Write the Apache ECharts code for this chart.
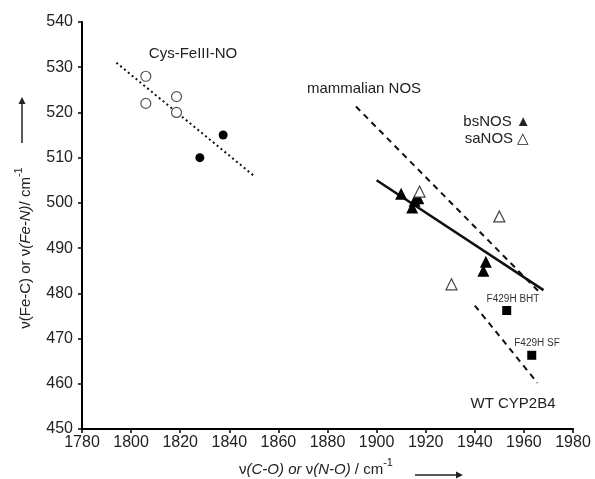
<!DOCTYPE html>
<html>
<head>
<meta charset="utf-8">
<script src="https://cdn.jsdelivr.net/npm/echarts@6/dist/echarts.min.js"></script>
<style>html,body{margin:0;padding:0;background:#fff}#c{width:595px;height:479px}</style>
</head>
<body>
<div id="c"></div>
<script>
// ---- data ----
var xTicks = [1780, 1800, 1820, 1840, 1860, 1880, 1900, 1920, 1940, 1960, 1980];
var yTicks = [450, 460, 470, 480, 490, 500, 510, 520, 530, 540];
var cysOpen = [[1806, 528], [1806, 522], [1818.5, 523.5], [1818.5, 520]];
var cysFilled = [[1828, 510], [1837.5, 515]];
var bsNOS = [[1910, 502], [1914.5, 499], [1915.5, 500.5], [1917, 501], [1944.5, 487], [1943.5, 485]];
var saNOS = [[1917.5, 502.5], [1950, 497], [1930.5, 482]];
var cypMutants = [[1953, 476.2], [1963.2, 466.3]];
var cysFit = [[1794, 531], [1850, 506]];
var mammalianFit = [[1891.6, 521.3], [1966.6, 480.1]];
var nosFit = [[1900, 505], [1968, 480.7]];
var cypFit = [[1940, 477.3], [1965.5, 460.2]];

var FONT = 'Liberation Sans, Arial, sans-serif';
var chart = echarts.init(document.getElementById('c'), null, {renderer: 'canvas'});

function lineSeries(data, type, width) {
  return {
    type: 'line', data: data, symbol: 'none', silent: true, z: 2,
    lineStyle: {color: '#111', width: width, type: type}
  };
}
function plain(v) { return String(v); }

var option = {
  backgroundColor: '#fff',
  animation: false,
  grid: {left: 82, right: 22, top: 22, bottom: 50},
  xAxis: {
    type: 'value', min: xTicks[0], max: xTicks[xTicks.length - 1], interval: 20,
    axisLine: {lineStyle: {color: '#000', width: 2}},
    axisTick: {length: 4, lineStyle: {color: '#000', width: 1.5}},
    axisLabel: {color: '#222', fontSize: 16, fontFamily: FONT, margin: 6, formatter: plain},
    splitLine: {show: false}
  },
  yAxis: {
    type: 'value', min: yTicks[0], max: yTicks[yTicks.length - 1], interval: 10,
    axisLine: {show: true, lineStyle: {color: '#000', width: 2}},
    axisTick: {show: true, length: 4, lineStyle: {color: '#000', width: 1.5}},
    axisLabel: {color: '#222', fontSize: 16, fontFamily: FONT, margin: 9, formatter: plain},
    splitLine: {show: false}
  },
  series: [
    lineSeries(cysFit, [2, 3], 2),
    lineSeries(mammalianFit, [6, 5], 2),
    lineSeries(nosFit, 'solid', 2.5),
    lineSeries(cypFit, [6, 5], 2),
    {type: 'scatter', data: cysOpen, symbol: 'circle', symbolSize: 10, z: 3,
      itemStyle: {color: '#fff', borderColor: '#555', borderWidth: 1.2, opacity: 1}},
    {type: 'scatter', data: cysFilled, symbol: 'circle', symbolSize: 9, z: 3,
      itemStyle: {color: '#000', opacity: 1}},
    {type: 'scatter', data: bsNOS, symbol: 'triangle', symbolSize: 12, z: 4,
      itemStyle: {color: '#000', opacity: 1}},
    {type: 'scatter', data: saNOS, symbol: 'triangle', symbolSize: 11, z: 5,
      itemStyle: {color: '#fff', borderColor: '#444', borderWidth: 1.2, opacity: 1}},
    {type: 'scatter', data: cypMutants, symbol: 'rect', symbolSize: 9, z: 3,
      itemStyle: {color: '#000', opacity: 1}}
  ],
  graphic: [
    {type: 'text', x: 193, y: 54, style: {text: 'Cys-FeIII-NO', fill: '#222', font: '15px ' + FONT, align: 'center', verticalAlign: 'middle'}},
    {type: 'text', x: 364, y: 89, style: {text: 'mammalian NOS', fill: '#222', font: '15px ' + FONT, align: 'center', verticalAlign: 'middle'}},
    {type: 'text', x: 497, y: 122, style: {text: 'bsNOS \u25B2', fill: '#222', font: '15px ' + FONT, align: 'center', verticalAlign: 'middle'}},
    {type: 'text', x: 497, y: 139, style: {text: 'saNOS \u25B3', fill: '#222', font: '15px ' + FONT, align: 'center', verticalAlign: 'middle'}},
    {type: 'text', x: 513, y: 299, style: {text: 'F429H BHT', fill: '#333', font: '10px ' + FONT, align: 'center', verticalAlign: 'middle'}},
    {type: 'text', x: 537, y: 343, style: {text: 'F429H SF', fill: '#333', font: '10px ' + FONT, align: 'center', verticalAlign: 'middle'}},
    {type: 'text', x: 513, y: 404, style: {text: 'WT CYP2B4', fill: '#222', font: '15px ' + FONT, align: 'center', verticalAlign: 'middle'}},
    // x-axis title
    {type: 'text', x: 316, y: 467, style: {
      text: '{u|\u03BD}{i|(C-O) or }{u|\u03BD}{i|(N-O)}{u| / cm}{s|-1}',
      align: 'center', verticalAlign: 'middle', fill: '#222',
      rich: {
        u: {fontSize: 15, fontFamily: FONT, fill: '#222', lineHeight: 20, verticalAlign: 'bottom'},
        i: {fontSize: 15, fontFamily: FONT, fontStyle: 'italic', fill: '#222', lineHeight: 20, verticalAlign: 'bottom'},
        s: {fontSize: 11, fontFamily: FONT, fill: '#222', lineHeight: 20, verticalAlign: 'top'}
      }}},
    {type: 'line', shape: {x1: 415, y1: 475, x2: 461, y2: 475}, style: {stroke: '#222', lineWidth: 1.5}},
    {type: 'polygon', shape: {points: [[463, 475], [456, 471.5], [456, 478.5]]}, style: {fill: '#222'}},
    // y-axis title
    {type: 'text', x: 23, y: 248, rotation: Math.PI / 2, style: {
      text: '{u|\u03BD(Fe-C) or \u03BD}{i|(Fe-N)}{u|/ cm}{s|-1}',
      align: 'center', verticalAlign: 'middle', fill: '#222',
      rich: {
        u: {fontSize: 15, fontFamily: FONT, fill: '#222', lineHeight: 20, verticalAlign: 'bottom'},
        i: {fontSize: 15, fontFamily: FONT, fontStyle: 'italic', fill: '#222', lineHeight: 20, verticalAlign: 'bottom'},
        s: {fontSize: 11, fontFamily: FONT, fill: '#222', lineHeight: 20, verticalAlign: 'top'}
      }}},
    {type: 'line', shape: {x1: 22, y1: 143, x2: 22, y2: 100}, style: {stroke: '#222', lineWidth: 1.5}},
    {type: 'polygon', shape: {points: [[22, 97], [18.5, 104], [25.5, 104]]}, style: {fill: '#222'}}
  ]
};
chart.setOption(option);
</script>
</body>
</html>
